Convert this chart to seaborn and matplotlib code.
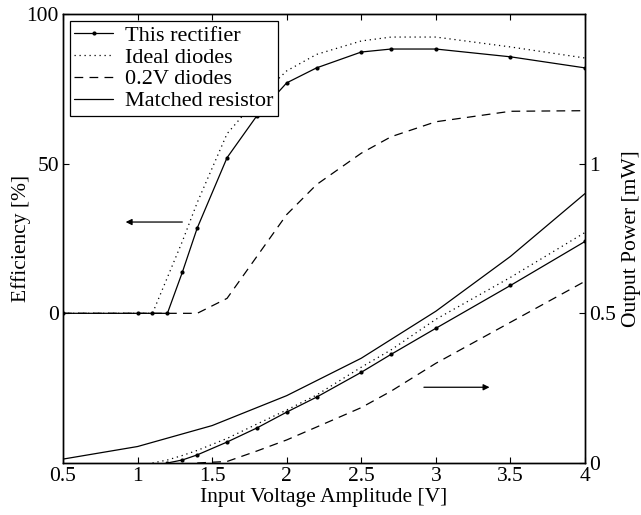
# rectifier efficiency / output power chart
import matplotlib
matplotlib.use("Agg")
import matplotlib.pyplot as plt
import seaborn as sns

# input voltage amplitude [V]
vin = [0.5, 1.0, 1.1, 1.2, 1.3, 1.4, 1.6, 1.8, 2.0, 2.2, 2.5, 2.7, 3.0, 3.5, 4.0]

# efficiency [%]
eff_rect = [0, 0, 0, 0, 13.7, 28.5, 52, 66, 77, 82, 87.3, 88.3, 88.3, 85.7, 82]
eff_ideal = [0, 0, 0, 12, 24, 37, 60, 71.5, 81, 86.5, 91, 92.3, 92.3, 89, 85.3]
eff_02 = [0, 0, 0, 0, 0, 0, 5, 19, 33, 43, 53.5, 59, 64, 67.5, 67.7]

# output power [mW]
p_rect = [0, 0.01, 0.027, 0.07, 0.117, 0.17, 0.22, 0.303, 0.363, 0.45, 0.593, 0.74]      # from 1.2 V
p_ideal = [0, 0.01, 0.025, 0.042, 0.082, 0.13, 0.177, 0.227, 0.32, 0.378, 0.48, 0.62, 0.77]  # from 1.1 V
p_02 = [0, 0.005, 0.04, 0.077, 0.12, 0.185, 0.24, 0.333, 0.47, 0.607]  # from 1.4 V

vin_match = [0.5, 1.0, 1.5, 2.0, 2.5, 3.0, 3.5, 4.0]
p_match = [0.013, 0.055, 0.125, 0.225, 0.35, 0.507, 0.69, 0.9]

labels = ["This rectifier", "Ideal diodes", "0.2V diodes", "Matched resistor"]
x_ticks = [0.5, 1, 1.5, 2, 2.5, 3, 3.5, 4]
x_ticklabels = ["0.5", "1", "1.5", "2", "2.5", "3", "3.5", "4"]
eff_ticks = [0, 50, 100]
pow_ticks = [0, 0.5, 1]
pow_ticklabels = ["0", "0.5", "1"]

sns.set_style("ticks")
plt.rcParams.update({
    "font.family": ["Liberation Serif", "DejaVu Serif"],
    "font.size": 15.5,
    "axes.edgecolor": "k",
    "axes.labelcolor": "k",
    "text.color": "k",
    "xtick.color": "k",
    "ytick.color": "k",
    "xtick.direction": "in",
    "ytick.direction": "in",
    "xtick.major.size": 4,
    "ytick.major.size": 4,
    "axes.linewidth": 1.0,
})

fig = plt.figure(figsize=(6.41, 5.15), dpi=100)
ax1 = fig.add_axes([0.0983, 0.101, 0.8143, 0.8718])
ax2 = ax1.twinx()

lw = 0.9
dotted = (0, (1, 3))
dashed = (0, (7, 5))
# efficiency curves (left axis)
sns.lineplot(x=vin, y=eff_rect, ax=ax1, color="k", lw=lw, marker="o",
             markersize=3, markeredgewidth=0, legend=False)
h_rect = ax1.lines[-1]
sns.lineplot(x=vin, y=eff_ideal, ax=ax1, color="k", lw=lw, linestyle=dotted, legend=False)
h_ideal = ax1.lines[-1]
sns.lineplot(x=vin, y=eff_02, ax=ax1, color="k", lw=lw, linestyle=dashed, legend=False)
h_02 = ax1.lines[-1]

# power curves (right axis)
sns.lineplot(x=vin[3:], y=p_rect, ax=ax2, color="k", lw=lw, marker="o",
             markersize=3, markeredgewidth=0, legend=False)
sns.lineplot(x=vin[2:], y=p_ideal, ax=ax2, color="k", lw=lw, linestyle=dotted, legend=False)
sns.lineplot(x=vin[5:], y=p_02, ax=ax2, color="k", lw=lw, linestyle=dashed, legend=False)
sns.lineplot(x=vin_match, y=p_match, ax=ax2, color="k", lw=lw, legend=False)
h_match = ax2.lines[-1]

ax1.set_xlim(0.5, 4)
ax1.set_ylim(-50, 100)
ax2.set_ylim(0, 1.5)
ax1.set_xticks(x_ticks)
ax1.set_xticklabels(x_ticklabels)
ax1.set_yticks(eff_ticks)
ax2.set_yticks(pow_ticks)
ax2.set_yticklabels(pow_ticklabels)
ax1.tick_params(top=True, right=False, pad=3)
ax2.tick_params(right=True, left=False, pad=3)

ax1.set_xlabel("Input Voltage Amplitude [V]", labelpad=1)
ax1.set_ylabel("Efficiency [%]", labelpad=-3)
ax2.set_ylabel("Output Power [mW]", labelpad=4)

# arrows pointing to the axis of each family
arrow = dict(arrowstyle="-|>", color="k", lw=0.9, mutation_scale=9, shrinkA=0, shrinkB=0)
ax1.annotate("", xy=(0.92, 30.5), xytext=(1.3, 30.5), arrowprops=arrow)
ax2.annotate("", xy=(3.36, 0.253), xytext=(2.92, 0.253), arrowprops=arrow)

leg = ax2.legend(handles=[h_rect, h_ideal, h_02, h_match], labels=labels,
                 loc="upper left", fancybox=False, edgecolor="k", framealpha=1,
                 handlelength=1.75, borderaxespad=0.3, labelspacing=0.06,
                 borderpad=0.2, handletextpad=0.55, fontsize=16)
leg.get_frame().set_linewidth(0.9)

fig.savefig("out.png", dpi=100)
